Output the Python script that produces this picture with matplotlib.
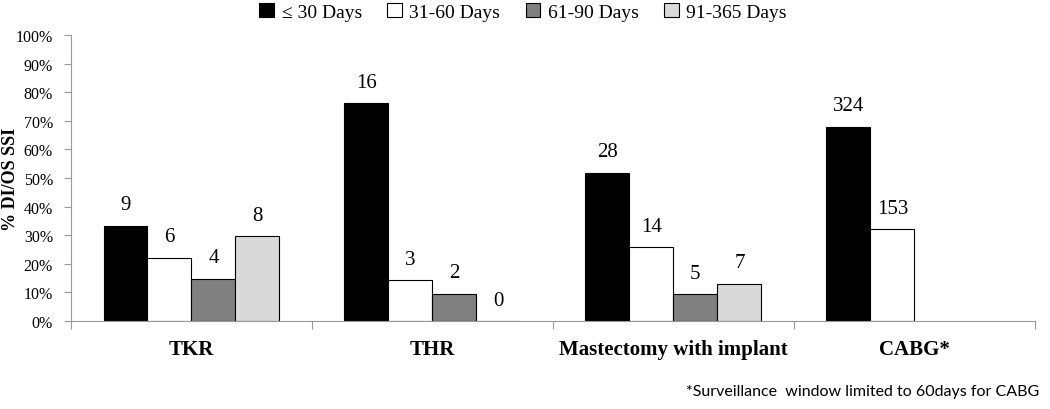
import numpy as np
import matplotlib.pyplot as plt
from matplotlib.ticker import PercentFormatter, FixedLocator

# data
categories = ["TKR", "THR", "Mastectomy with implant", "CABG*"]
series = ["\u2264 30 Days", "31-60 Days", "61-90 Days", "91-365 Days"]
counts = [
    [9, 16, 28, 324],
    [6, 3, 14, 153],
    [4, 2, 5, None],
    [8, 0, 7, None],
]
pct = [
    [33.3, 76.2, 51.9, 67.9],
    [22.2, 14.3, 25.9, 32.1],
    [14.8, 9.5, 9.3, np.nan],
    [29.6, 0.0, 13.0, np.nan],
]
colors = ["#000000", "#ffffff", "#808080", "#d9d9d9"]
footnote = "*Surveillance  window limited to 60days for CABG"

plt.rcParams["font.family"] = ["Liberation Serif", "DejaVu Serif"]

fig = plt.figure(figsize=(10.5, 4.1), dpi=100)
ax = fig.add_axes([0.0676, 0.2146, 0.918, 0.6974])

x = np.arange(len(categories))
w = 0.1825
for i, (name, vals) in enumerate(zip(series, pct)):
    pos = x + (i - 1.5) * w
    ax.bar(pos, vals, width=w, color=colors[i], edgecolor="black",
           linewidth=0.8, label=name)
    for p, v, c in zip(pos, vals, counts[i]):
        if c is None:
            continue
        ax.text(p, v + 4.0, str(c), ha="center", va="bottom", fontsize=15)

ax.set_xlim(-0.5, 3.5)
ax.set_ylim(0, 100)
ax.yaxis.set_major_locator(plt.MultipleLocator(10))
ax.yaxis.set_major_formatter(PercentFormatter(decimals=0))
ax.xaxis.set_major_locator(FixedLocator(np.arange(-0.5, 4.0, 1.0)))
ax.xaxis.set_major_formatter(plt.NullFormatter())
ax.xaxis.set_minor_locator(FixedLocator(x))
ax.set_xticklabels(categories, minor=True, fontsize=15, fontweight="bold")
ax.tick_params(axis="x", which="minor", length=0, pad=13)
ax.tick_params(axis="x", which="major", length=6, color="#999999")
ax.tick_params(axis="y", length=5, color="#999999", labelsize=11.5, pad=8)

for s in ["top", "right"]:
    ax.spines[s].set_visible(False)
ax.spines["left"].set_color("#999999")
ax.spines["bottom"].set_color("#999999")

ax.set_ylabel("% DI/OS SSI", fontsize=13, fontweight="bold")
ax.yaxis.set_label_coords(-0.054, 0.5)

ax.legend(loc="center", bbox_to_anchor=(0.469, 1.08), ncol=4,
          frameon=False, prop={"size": 14},
          handlelength=0.75, handleheight=0.75, handletextpad=0.4,
          columnspacing=1.3)

fig.text(0.99, 0.044, footnote, ha="right", va="center",
         fontsize=11.5, family="Lato")

fig.savefig("out.png", dpi=100)
